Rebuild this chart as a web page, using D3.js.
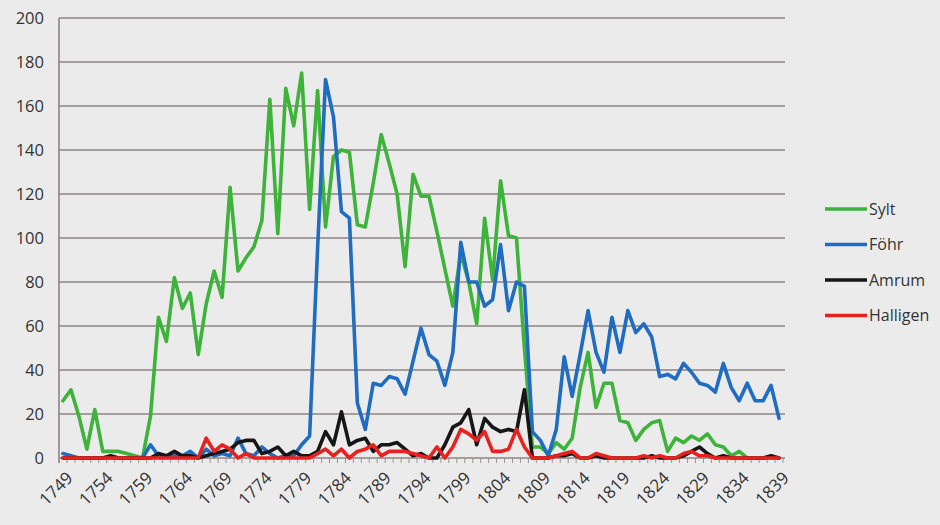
<!DOCTYPE html>
<html><head><meta charset="utf-8">
<script src="https://cdn.jsdelivr.net/npm/d3@7/dist/d3.min.js"></script>
<style>body{margin:0;background:#ebebeb;overflow:hidden}</style>
</head><body><svg id="c" width="940" height="525"></svg>
<script>
const firstYear = 1749, lastYear = 1839;
const years = d3.range(firstYear, lastYear + 1);
const tickLabels = ["1749","1754","1759","1764","1769","1774","1779","1784","1789","1794","1799","1804","1809","1814","1819","1824","1829","1834","1839"];
const yTicks = [0,20,40,60,80,100,120,140,160,180,200];
const seriesNames = ["Sylt","Föhr","Amrum","Halligen"];

const sylt = [
 26,31,19,4,22,3,3,3,2,1,
 0,19,64,53,82,68,75,47,70,85,
 73,123,85,91,96,108,163,102,168,151,
 175,113,167,105,137,140,139,106,105,125,
 147,134,120,87,129,119,119,103,86,69,
 93,80,61,109,81,126,101,100,50,5,
 5,2,7,4,9,32,48,23,34,34,
 17,16,8,13,16,17,3,9,7,10,
 8,11,6,5,1,3,0,0,0,0,
 0];
const foehr = [
 2,1,0,0,0,0,0,0,0,0,
 0,6,1,1,1,1,3,0,4,1,
 2,1,9,2,1,5,2,0,1,1,
 6,10,95,172,155,112,109,25,13,34,
 33,37,36,29,44,59,47,44,33,48,
 98,80,80,69,72,97,67,80,78,12,
 8,1,13,46,28,47,67,48,39,64,
 48,67,57,61,55,37,38,36,43,39,
 34,33,30,43,32,26,34,26,26,33,
 18];
const amrum = [
 0,0,0,0,0,0,1,0,0,0,
 0,0,2,1,3,1,1,0,1,2,
 3,4,7,8,8,2,3,5,1,3,
 1,1,3,12,6,21,6,8,9,3,
 6,6,7,4,1,2,0,0,6,14,
 16,22,6,18,14,12,13,12,31,0,
 0,0,1,1,2,0,0,1,0,0,
 0,0,0,0,1,0,0,0,1,3,
 5,2,0,1,0,0,0,0,0,1,
 0];
const halligen = [
 0,0,0,0,0,0,0,0,0,0,
 0,0,0,0,0,0,0,0,9,3,
 6,4,0,2,0,0,0,0,0,0,
 0,0,2,4,1,4,0,3,4,6,
 1,3,3,3,2,1,0,5,0,5,
 13,11,8,12,3,3,4,13,5,0,
 0,0,1,2,3,0,0,2,1,0,
 0,0,0,1,0,1,0,0,2,3,
 1,1,0,0,0,0,0,0,0,0,
 0];
const seriesValues = [sylt, foehr, amrum, halligen];
const colors = ["#3db33a","#1f6cc0","#161616","#e8211f"];

const svg = d3.select("#c");
svg.append("rect").attr("width",940).attr("height",525).attr("fill","#ebebeb");

const x = d3.scalePoint().domain(years).range([59,783]).padding(0.5);
const y = d3.scaleLinear().domain([0,200]).range([458,18]);
const step = x.step();
const [x0, x1] = x.range();

// gridlines
svg.append("g").selectAll("line").data(yTicks).join("line")
  .attr("x1", x0).attr("x2", x1 + 2)
  .attr("y1", d => y(d)).attr("y2", d => y(d))
  .attr("stroke", "#8c8484").attr("stroke-width", 1.6);

// vertical axis line
svg.append("line").attr("x1", x0).attr("x2", x0)
  .attr("y1", y(200)).attr("y2", y(0) + 5)
  .attr("stroke", "#8c8484").attr("stroke-width", 1.6);

// category tick marks
const bounds = years.map(d => x(d) - step/2).concat([x(lastYear) + step/2]);
svg.append("g").selectAll("line").data(bounds).join("line")
  .attr("x1", d => d).attr("x2", d => d)
  .attr("y1", y(0)).attr("y2", y(0) + 5)
  .attr("stroke", "#9a9292").attr("stroke-width", 1);

// y labels
svg.append("g").selectAll("text").data(yTicks).join("text")
  .attr("x", 44).attr("y", d => y(d)).attr("dy", "0.36em")
  .attr("text-anchor", "end")
  .attr("font-family", "Open Sans").attr("font-size", 16.5)
  .attr("fill", "#333").text(d => d);

// x labels
svg.append("g").selectAll("text").data(tickLabels).join("text")
  .attr("transform", d => `translate(${x(+d) + 11},${y(0) + 21}) rotate(-45)`)
  .attr("text-anchor", "end")
  .attr("font-family", "Open Sans").attr("font-size", 17)
  .attr("fill", "#333").text(d => d);

// lines
const line = d3.line().x((d,i) => x(years[i])).y(d => y(d));
seriesValues.forEach((vals, k) => {
  svg.append("path").datum(vals)
    .attr("d", line).attr("fill", "none")
    .attr("stroke", colors[k]).attr("stroke-width", 3.6)
    .attr("stroke-linejoin", "round").attr("stroke-linecap", "round");
});

// legend
const lg = svg.append("g");
seriesNames.forEach((n, k) => {
  const ly = 209 + k * 35.5;
  lg.append("line").attr("x1", 825).attr("x2", 867).attr("y1", ly).attr("y2", ly)
    .attr("stroke", colors[k]).attr("stroke-width", 3.6);
  lg.append("text").attr("x", 869).attr("y", ly).attr("dy", "0.36em")
    .attr("font-family", "Open Sans").attr("font-size", 16)
    .attr("fill", "#333").text(n);
});
</script></body></html>
